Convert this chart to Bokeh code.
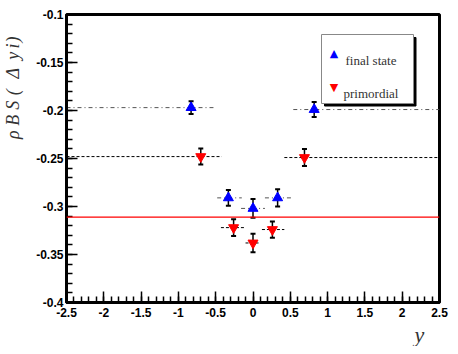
import numpy as np
from bokeh.plotting import figure
from bokeh.models import (Range1d, FixedTicker, Span, Whisker, TeeHead, LinearAxis,
                          ColumnDataSource, Label, BoxAnnotation, Title)
from bokeh.embed import file_html
from bokeh.resources import INLINE

# ---------------- data ----------------
# final state (blue, upward triangles)
fs_y = [-0.83, -0.33, 0.0, 0.33, 0.82]
fs_val = [-0.197, -0.291, -0.302, -0.291, -0.199]
fs_err = [0.0067, 0.0083, 0.0097, 0.0090, 0.0078]
fs_lo = [-2.5, -0.48, -0.16, 0.16, 0.54]
fs_hi = [-0.53, -0.15, 0.16, 0.51, 2.5]

# primordial (red, downward triangles)
pr_y = [-0.70, -0.26, 0.0, 0.26, 0.69]
pr_val = [-0.248, -0.322, -0.338, -0.324, -0.249]
pr_err = [0.0083, 0.0087, 0.0097, 0.0085, 0.0088]
pr_lo = [-2.5, -0.43, -0.10, 0.12, 0.42]
pr_hi = [-0.42, -0.11, 0.10, 0.42, 2.5]

ref_level = -0.311

x_ticks = [-2.5, -2.0, -1.5, -1.0, -0.5, 0.0, 0.5, 1.0, 1.5, 2.0, 2.5]
x_tick_labels = ["-2.5", "-2", "-1.5", "-1", "-0.5", "0", "0.5", "1", "1.5", "2", "2.5"]
y_ticks = [-0.4, -0.35, -0.3, -0.25, -0.2, -0.15, -0.1]
y_tick_labels = ["-0.4", "-0.35", "-0.3", "-0.25", "-0.2", "-0.15", "-0.1"]

legend_labels = ["final state", "primordial"]
x_title = "y"
# y title rho_{BS}(Delta y_i), one piece per glyph, with window y of each piece
y_title_pieces = ["ρ", "B", "S", "(", "Δ", "y", "i", ")"]
y_title_win_y = [134.5, 120, 105, 92, 73, 55.5, 45.5, 39]

# ---------------- layout constants ----------------
FL, FT = 64, 14    # frame left / top in window pixels
FW, FH = 375, 289  # frame size
FB = FT + FH
RB = 11
H = 346
Y0, Y1 = -0.4, -0.1

# ---------------- main figure ----------------
p = figure(width=FL + FW + RB, height=H,
           x_range=Range1d(-2.5, 2.5), y_range=Range1d(Y0, Y1),
           output_backend="svg", toolbar_location=None,
           min_border_left=FL, min_border_right=RB,
           min_border_top=FT, min_border_bottom=H - FB)
p.xgrid.visible = False
p.ygrid.visible = False
p.background_fill_color = "white"
p.border_fill_color = "white"
p.outline_line_color = "black"
p.outline_line_width = 3

x_minor = [round(v, 2) for v in np.arange(-2.5, 2.5001, 0.1)]
y_minor = [round(v, 3) for v in np.arange(-0.4, -0.0999, 0.01)]
p.xaxis.ticker = FixedTicker(ticks=x_ticks, minor_ticks=x_minor)
p.yaxis.ticker = FixedTicker(ticks=y_ticks, minor_ticks=y_minor)
p.xaxis.major_label_overrides = dict(zip(x_ticks, x_tick_labels))
p.yaxis.major_label_overrides = dict(zip(y_ticks, y_tick_labels))

for ax in (p.xaxis[0], p.yaxis[0]):
    ax.axis_line_width = 3
    ax.axis_line_color = "black"
    ax.major_tick_in = 11
    ax.major_tick_out = 0
    ax.minor_tick_in = 6
    ax.minor_tick_out = 0
    ax.major_tick_line_width = 1.5
    ax.minor_tick_line_width = 1.5
    ax.major_tick_line_color = "black"
    ax.minor_tick_line_color = "black"
    ax.major_label_text_font = "Liberation Sans"
    ax.major_label_text_font_style = "bold"
    ax.major_label_text_font_size = "12px"
    ax.major_label_text_color = "black"
p.xaxis.major_label_standoff = 5
p.yaxis.major_label_standoff = 3

# y title: an outer, line-less axis whose tick labels are the title's glyphs
title_pos = [Y1 - (wy - FT) / FH * (Y1 - Y0) for wy in y_title_win_y]
ty = LinearAxis(ticker=FixedTicker(ticks=title_pos, minor_ticks=[]),
                major_label_overrides=dict(zip(title_pos, y_title_pieces)),
                major_label_orientation="vertical",
                major_label_standoff=4,
                major_label_text_font="Liberation Serif",
                major_label_text_font_style="italic",
                major_label_text_font_size="18px",
                major_label_text_color="#333333",
                axis_line_color=None, major_tick_line_color=None,
                minor_tick_line_color=None)
p.add_layout(ty, "left")

# x title "y" at the right end, below the tick labels
p.add_layout(Title(text=x_title, align="left", offset=412 - FL,
                   text_font="Liberation Serif", text_font_style="italic",
                   text_font_size="22px", text_color="#333333",
                   text_line_height=0.9, standoff=0), "below")

# ---------------- data marks ----------------
p.segment(x0=fs_lo, y0=fs_val, x1=fs_hi, y1=fs_val,
          line_color="#555555", line_width=1, line_dash="4 3 1 3")
p.segment(x0=pr_lo, y0=pr_val, x1=pr_hi, y1=pr_val,
          line_color="black", line_width=1, line_dash="3 2")

p.add_layout(Span(location=ref_level, dimension="width",
                  line_color="#ff0000", line_width=1.2))

for xs, vals, errs in ((fs_y, fs_val, fs_err), (pr_y, pr_val, pr_err)):
    src = ColumnDataSource(dict(
        x=xs,
        lower=[v - e for v, e in zip(vals, errs)],
        upper=[v + e for v, e in zip(vals, errs)]))
    w = Whisker(source=src, base="x", lower="lower", upper="upper",
                dimension="height", line_color="black", line_width=1.5,
                upper_head=TeeHead(size=5, line_width=2, line_color="black"),
                lower_head=TeeHead(size=5, line_width=2, line_color="black"),
                level="underlay")
    p.add_layout(w)

p.scatter(fs_y, fs_val, marker="triangle", size=10,
          fill_color="#0000ff", line_color="#0000ff")
p.scatter(pr_y, pr_val, marker="inverted_triangle", size=10,
          fill_color="#ff0000", line_color="#ff0000")


# ---------------- legend (manual, ROOT style) ----------------
def sx(wx):
    return wx - FL


def sy(wy):
    return FB - wy


p.add_layout(BoxAnnotation(left=sx(322), right=sx(413.5), top=sy(38), bottom=sy(106.5),
                           left_units="screen", right_units="screen",
                           top_units="screen", bottom_units="screen",
                           fill_color="black", fill_alpha=1.0, line_color="black",
                           line_alpha=1.0, line_width=1))
p.add_layout(BoxAnnotation(left=sx(319), right=sx(411), top=sy(35), bottom=sy(104),
                           left_units="screen", right_units="screen",
                           top_units="screen", bottom_units="screen",
                           fill_color="white", fill_alpha=1.0, line_color="#888888",
                           line_alpha=1.0, line_width=1))

p.add_layout(Label(x=sx(331.5), y=sy(54), x_units="screen", y_units="screen",
                   text="▲", text_color="#0000ff", text_font="DejaVu Sans",
                   text_font_size="11px", text_align="center", text_baseline="middle"))
p.add_layout(Label(x=sx(331.5), y=sy(88), x_units="screen", y_units="screen",
                   text="▼", text_color="#ff0000", text_font="DejaVu Sans",
                   text_font_size="11px", text_align="center", text_baseline="middle"))
p.add_layout(Label(x=sx(343), y=sy(61), x_units="screen", y_units="screen",
                   text=legend_labels[0], text_color="#333333", text_font="Liberation Serif",
                   text_font_size="13px", text_align="left", text_baseline="alphabetic"))
p.add_layout(Label(x=sx(341), y=sy(94), x_units="screen", y_units="screen",
                   text=legend_labels[1], text_color="#333333", text_font="Liberation Serif",
                   text_font_size="13px", text_align="left", text_baseline="alphabetic"))

open("out.html", "w").write(file_html(p, INLINE))
